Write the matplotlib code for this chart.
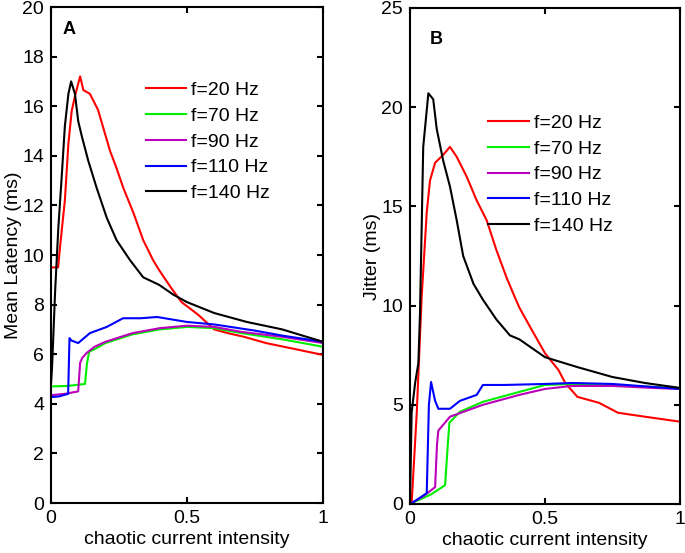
import numpy as np
import matplotlib.pyplot as plt

plt.rcParams['font.family'] = ['Liberation Sans', 'DejaVu Sans']

labels = ["f=20 Hz", "f=70 Hz", "f=90 Hz", "f=110 Hz", "f=140 Hz"]
colors = ["#ff0000", "#00ee00", "#bb00bb", "#0000ff", "#000000"]

# panel A: mean latency (ms)
lat_x = {
    "f=20 Hz":  [0, 0.026, 0.033, 0.051, 0.064, 0.076, 0.088, 0.107, 0.119, 0.143, 0.173, 0.217, 0.241, 0.266,
                 0.303, 0.339, 0.375, 0.397, 0.44, 0.48, 0.54, 0.60, 0.65, 0.71, 0.79, 0.9, 1.0],
    "f=70 Hz":  [0, 0.06, 0.125, 0.132, 0.14, 0.16, 0.2, 0.3, 0.4, 0.5, 0.6, 0.7, 0.85, 1.0],
    "f=90 Hz":  [0, 0.05, 0.1, 0.107, 0.115, 0.131, 0.16, 0.2, 0.3, 0.4, 0.5, 0.6, 0.7, 0.85, 1.0],
    "f=110 Hz": [0, 0.03, 0.063, 0.068, 0.075, 0.1, 0.143, 0.205, 0.265, 0.33, 0.39, 0.5, 0.6, 0.75, 0.85, 1.0],
    "f=140 Hz": [0, 0.004, 0.015, 0.027, 0.039, 0.051, 0.064, 0.074, 0.088, 0.10, 0.113, 0.137, 0.168, 0.205,
                 0.241, 0.29, 0.339, 0.397, 0.45, 0.50, 0.60, 0.72, 0.85, 1.0],
}
lat_y = {
    "f=20 Hz":  [9.5, 9.5, 10.3, 12.2, 14.5, 15.8, 16.4, 17.2, 16.65, 16.5, 15.85, 14.2, 13.5, 12.7,
                 11.7, 10.6, 9.8, 9.4, 8.7, 8.1, 7.6, 7.0, 6.85, 6.7, 6.45, 6.2, 5.97],
    "f=70 Hz":  [4.7, 4.72, 4.8, 5.6, 6.1, 6.2, 6.45, 6.8, 7.0, 7.1, 7.05, 6.85, 6.6, 6.3],
    "f=90 Hz":  [4.35, 4.4, 4.5, 5.65, 5.85, 6.05, 6.3, 6.5, 6.85, 7.05, 7.15, 7.1, 6.9, 6.7, 6.45],
    "f=110 Hz": [4.27, 4.3, 4.4, 6.65, 6.55, 6.45, 6.85, 7.1, 7.45, 7.45, 7.5, 7.3, 7.2, 6.95, 6.75, 6.5],
    "f=140 Hz": [4.8, 5.5, 8.5, 11.1, 13.1, 15.2, 16.5, 17.0, 16.5, 15.4, 14.8, 13.8, 12.7, 11.5,
                 10.6, 9.8, 9.1, 8.8, 8.4, 8.1, 7.66, 7.3, 7.0, 6.5],
}

# panel B: jitter (ms)
jit_x = {
    "f=20 Hz":  [0, 0.006, 0.025, 0.043, 0.062, 0.074, 0.093, 0.123, 0.148, 0.173, 0.21, 0.247, 0.284, 0.32,
                 0.358, 0.389, 0.405, 0.45, 0.50, 0.55, 0.575, 0.62, 0.70, 0.77, 0.87, 1.0],
    "f=70 Hz":  [0, 0.08, 0.13, 0.14, 0.146, 0.185, 0.27, 0.405, 0.5, 0.6, 0.75, 0.9, 1.0],
    "f=90 Hz":  [0, 0.05, 0.093, 0.1, 0.105, 0.148, 0.27, 0.405, 0.5, 0.6, 0.75, 0.9, 1.0],
    "f=110 Hz": [0, 0.03, 0.062, 0.07, 0.078, 0.093, 0.105, 0.148, 0.185, 0.247, 0.27, 0.35, 0.5, 0.6, 0.75, 0.9, 1.0],
    "f=140 Hz": [0, 0.006, 0.019, 0.031, 0.037, 0.049, 0.068, 0.086, 0.099, 0.123, 0.148, 0.173, 0.197, 0.235,
                 0.27, 0.32, 0.37, 0.405, 0.50, 0.62, 0.75, 0.87, 1.0],
}
jit_y = {
    "f=20 Hz":  [0, 0, 4.6, 10.4, 14.7, 16.3, 17.2, 17.6, 18.0, 17.5, 16.5, 15.3, 14.3, 12.8,
                 11.4, 10.4, 9.9, 8.8, 7.6, 6.75, 6.1, 5.4, 5.1, 4.6, 4.4, 4.15],
    "f=70 Hz":  [0, 0.5, 0.95, 3.0, 4.1, 4.65, 5.15, 5.65, 6.0, 6.05, 6.0, 5.9, 5.85],
    "f=90 Hz":  [0, 0.4, 0.85, 3.0, 3.7, 4.4, 5.0, 5.5, 5.8, 5.95, 5.95, 5.85, 5.8],
    "f=110 Hz": [0, 0.25, 0.55, 5.0, 6.15, 5.2, 4.8, 4.8, 5.2, 5.5, 6.0, 6.0, 6.05, 6.1, 6.05, 5.9, 5.8],
    "f=140 Hz": [0, 4.6, 6.1, 7.1, 9.6, 18.0, 20.7, 20.4, 18.9, 17.3, 16.0, 14.3, 12.5, 11.1,
                 10.3, 9.3, 8.5, 8.3, 7.4, 6.9, 6.4, 6.1, 5.85],
}

fig = plt.figure(figsize=(6.85, 5.53), dpi=100)
axA = fig.add_axes([51/685, 50/553, 272/685, 496/553])
axB = fig.add_axes([410/685, 49/553, 270/685, 496/553])

def style(ax, ymax, ystep, ylabel):
    ax.set_xlim(0, 1)
    ax.set_ylim(0, ymax)
    ax.set_xticks([0, 0.5, 1])
    ax.set_xticklabels(["0", "0.5", "1"])
    ax.set_yticks(np.arange(0, ymax + 0.1, ystep))
    ax.tick_params(direction='in', top=True, right=True, length=4, width=1.5, labelsize=14, pad=5)
    for s in ax.spines.values():
        s.set_linewidth(1.5)
    ax.set_xlabel("chaotic current intensity", fontsize=14, labelpad=3)
    ax.set_ylabel(ylabel, fontsize=14, labelpad=0)

for lab, c in zip(labels, colors):
    axA.plot(lat_x[lab], lat_y[lab], color=c, lw=1.5, label=lab)
    axB.plot(jit_x[lab], jit_y[lab], color=c, lw=1.5, label=lab)

style(axA, 20, 2, "Mean Latency (ms)")
style(axB, 25, 5, "Jitter (ms)")

axA.text(0.066, 19.1, "A", fontsize=13, fontweight='bold', ha='center', va='center')
axB.text(0.097, 23.4, "B", fontsize=13, fontweight='bold', ha='center', va='center')

for ax, pos in ((axA, (0.348, 0.85)), (axB, (0.29, 0.786))):
    ax.legend(loc='upper left', bbox_to_anchor=pos, frameon=False, fontsize=14,
              handlelength=2.1, handletextpad=0.25, labelspacing=0.42, borderpad=0,
              borderaxespad=0)

fig.savefig("out.png", dpi=100)
